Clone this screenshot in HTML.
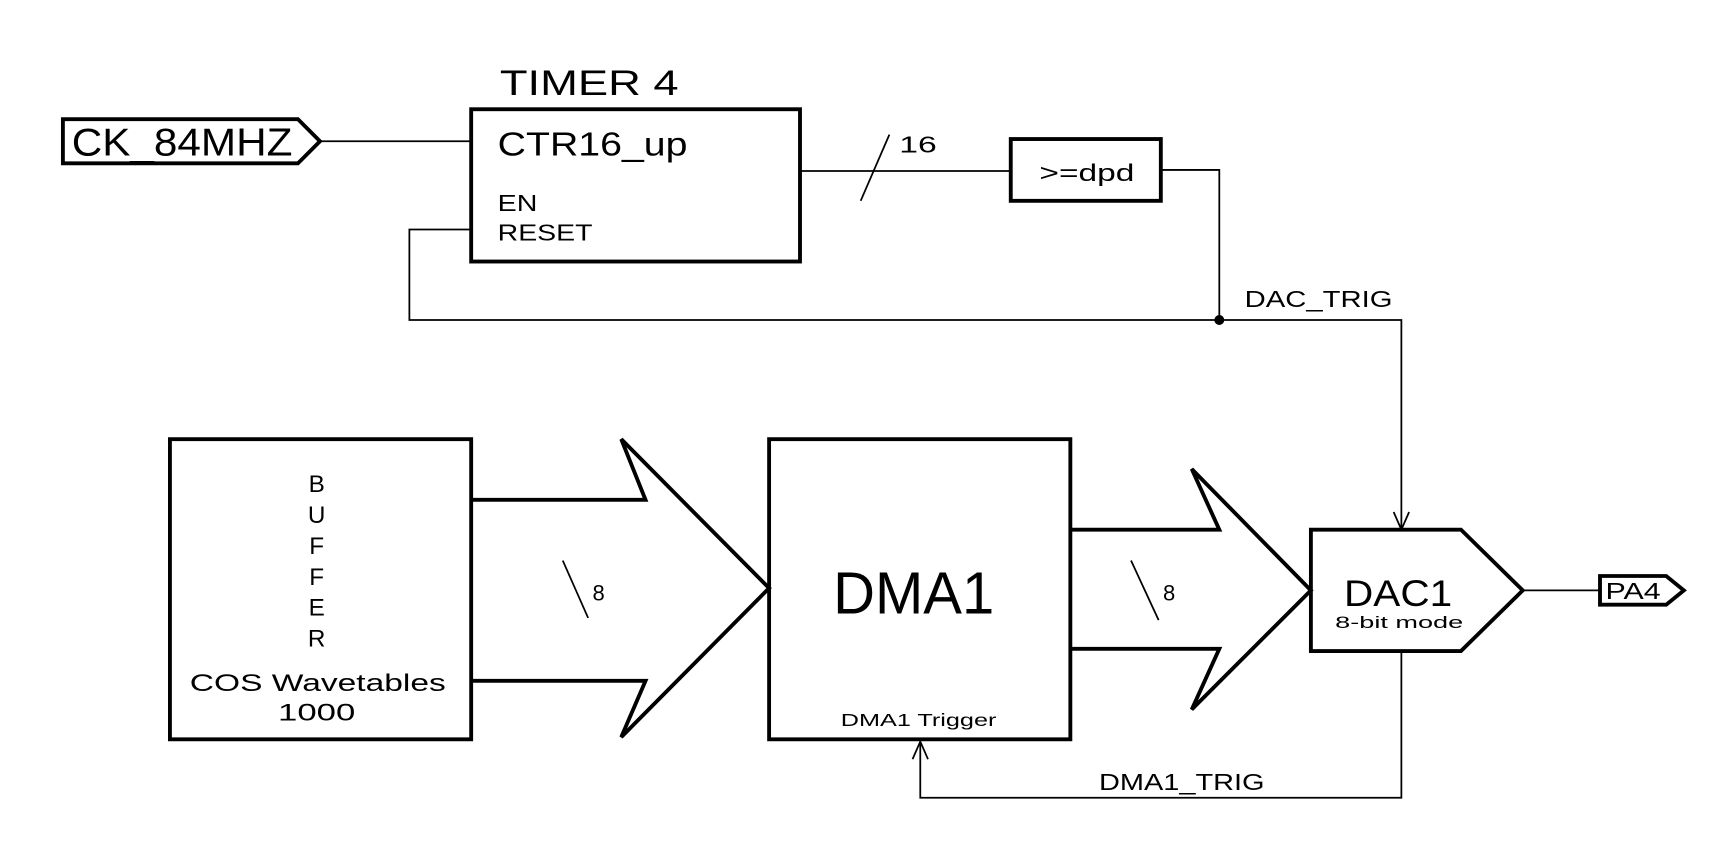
<!DOCTYPE html>
<html><head><meta charset="utf-8"><style>html,body{margin:0;padding:0;background:#fff}svg{display:block}</style></head>
<body>
<svg width="1728" height="864" viewBox="0 0 1566 783" preserveAspectRatio="none" xmlns="http://www.w3.org/2000/svg" font-family="Liberation Sans, sans-serif" fill="none" stroke="#000">
<rect x="0" y="0" width="1566" height="783" fill="#fff" stroke="none"/>
<g stroke-width="1.6">
<line x1="290" y1="128" x2="427" y2="128"/>
<line x1="725" y1="155" x2="916" y2="155"/>
<line x1="780" y1="182" x2="806" y2="122"/>
<polyline points="1052,154 1105,154 1105,290"/>
<polyline points="427,208 371,208 371,290 1270,290 1270,480"/>
<polyline points="1263,464 1270,480 1277,464"/>
<line x1="510" y1="508" x2="533" y2="560"/>
<line x1="1025" y1="508" x2="1050" y2="562"/>
<line x1="1380" y1="535" x2="1450" y2="535"/>
<polyline points="1270,590 1270,723 834,723 834,672"/>
<polyline points="827,688 834,672 841,688"/>
</g>
<circle cx="1105" cy="290" r="4.5" fill="#000" stroke="none"/>
<g stroke-width="3.5" stroke-linejoin="miter">
<polygon points="57,108 270,108 290,128 270,148 57,148"/>
<rect x="427" y="99" width="298" height="138"/>
<rect x="916" y="126" width="136" height="56"/>
<rect x="154" y="398" width="273" height="272"/>
<rect x="697" y="398" width="273" height="272"/>
<polyline points="427,453 585,453 563,398 697,533 563,668 585,617 427,617"/>
<polyline points="970,480 1105,480 1080,425 1188,535 1080,643 1105,588 970,588"/>
<polygon points="1188,480 1324,480 1380,535 1324,590 1188,590"/>
<polygon points="1450,522 1510,522 1526,535 1510,548 1450,548"/>
</g>
<g fill="#000" stroke="none">
<text x="65" y="141" font-size="35" textLength="200" lengthAdjust="spacingAndGlyphs">CK_84MHZ</text>
<text x="453" y="86" font-size="32" textLength="162" lengthAdjust="spacingAndGlyphs">TIMER 4</text>
<text x="451" y="141" font-size="30" textLength="172" lengthAdjust="spacingAndGlyphs">CTR16_up</text>
<text x="451" y="191" font-size="21" textLength="36" lengthAdjust="spacingAndGlyphs">EN</text>
<text x="451" y="218" font-size="21" textLength="86" lengthAdjust="spacingAndGlyphs">RESET</text>
<text x="815" y="138" font-size="21" textLength="34" lengthAdjust="spacingAndGlyphs">16</text>
<text x="942" y="164" font-size="22" textLength="86" lengthAdjust="spacingAndGlyphs">&gt;=dpd</text>
<text x="1128" y="278" font-size="21" textLength="134" lengthAdjust="spacingAndGlyphs">DAC_TRIG</text>
<g font-size="22" text-anchor="middle">
<text x="287" y="446">B</text>
<text x="287" y="474">U</text>
<text x="287" y="502">F</text>
<text x="287" y="530">F</text>
<text x="287" y="558">E</text>
<text x="287" y="586">R</text>
</g>
<text x="172" y="626" font-size="22" textLength="232" lengthAdjust="spacingAndGlyphs">COS Wavetables</text>
<text x="252" y="653" font-size="22" textLength="70" lengthAdjust="spacingAndGlyphs">1000</text>
<text x="537" y="544" font-size="20">8</text>
<text x="1054" y="544" font-size="20">8</text>
<text x="755" y="556" font-size="54" textLength="146" lengthAdjust="spacingAndGlyphs">DMA1</text>
<text x="762" y="658" font-size="16" textLength="141" lengthAdjust="spacingAndGlyphs">DMA1 Trigger</text>
<text x="1218" y="549" font-size="34" textLength="98" lengthAdjust="spacingAndGlyphs">DAC1</text>
<text x="1210" y="569" font-size="15" textLength="116" lengthAdjust="spacingAndGlyphs">8-bit mode</text>
<text x="1455" y="543" font-size="21" textLength="50" lengthAdjust="spacingAndGlyphs">PA4</text>
<text x="996" y="716" font-size="21" textLength="150" lengthAdjust="spacingAndGlyphs">DMA1_TRIG</text>
</g>
</svg>
</body></html>
